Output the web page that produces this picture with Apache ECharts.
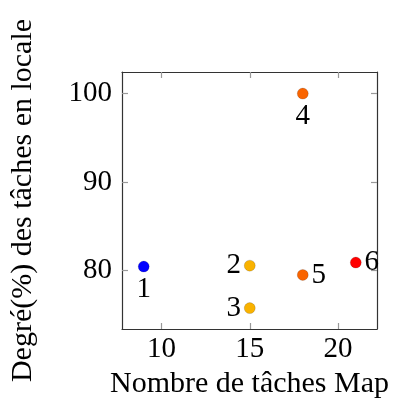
<!DOCTYPE html>
<html>
<head>
<meta charset="utf-8">
<script src="https://cdn.jsdelivr.net/npm/echarts@6/dist/echarts.min.js"></script>
<style>
  html, body { margin: 0; padding: 0; background: #fff; }
  #chart { width: 393px; height: 408px; }
</style>
</head>
<body>
<div id="chart"></div>
<script>
(function () {

  'use strict';

  var pointNames = ['1', '2', '3', '4', '5', '6'];
  var mapTasks = [9, 15, 15, 18, 18, 21];
  var localPct = [80.45, 80.55, 75.75, 100, 79.5, 80.9];
  var pointColors = ['#0000ff', '#f9b200', '#f9b200', '#f96400', '#f96400', '#ff0000'];
  var labelPos = ['bottom', 'left', 'left', 'bottom', 'right', 'right'];
  var xTicks = [10, 15, 20];
  var yTicks = [80, 90, 100];

  var font = '"Liberation Serif", "DejaVu Serif", serif';

  var chart = echarts.init(document.getElementById('chart'));

  var points = pointNames.map(function (n, i) {
    return {
      name: n,
      value: [mapTasks[i], localPct[i]],
      itemStyle: { color: pointColors[i] },
      label: { position: labelPos[i] }
    };
  });

  function tickStyle(values) {
    return {
      show: true, inside: true, length: 6, customValues: values,
      lineStyle: { color: '#999', width: 1.2 }
    };
  }

  var option = {
    animation: false,
    grid: { left: 118, right: 16, top: 72, bottom: 79 },
    xAxis: [{
      type: 'value', min: 7.77, max: 22.2,
      name: 'Nombre de tâches Map', nameLocation: 'middle', nameGap: 37,
      nameTextStyle: { fontFamily: font, fontSize: 30, color: '#000' },
      axisLine: { lineStyle: { color: '#333', width: 1.2 } },
      axisTick: tickStyle(xTicks),
      axisLabel: { customValues: xTicks, fontFamily: font, fontSize: 29, color: '#000', margin: 6 },
      splitLine: { show: false }
    }, {
      type: 'value', min: 7.77, max: 22.2, position: 'top',
      axisLine: { show: true, lineStyle: { color: '#333', width: 1.2 } },
      axisTick: tickStyle(xTicks),
      axisLabel: { show: false },
      splitLine: { show: false }
    }],
    yAxis: [{
      type: 'value', min: 73.39, max: 102.44,
      name: 'Degré(%) des tâches en locale', nameLocation: 'middle', nameGap: 84,
      nameTextStyle: { fontFamily: font, fontSize: 30, color: '#000' },
      axisLine: { show: true, lineStyle: { color: '#333', width: 1.2 } },
      axisTick: tickStyle(yTicks),
      axisLabel: { customValues: yTicks, fontFamily: font, fontSize: 29, color: '#000', margin: 10 },
      splitLine: { show: false }
    }, {
      type: 'value', min: 73.39, max: 102.44, position: 'right',
      axisLine: { show: true, lineStyle: { color: '#333', width: 1.2 } },
      axisTick: tickStyle(yTicks),
      axisLabel: { show: false },
      splitLine: { show: false }
    }],
    series: [{
      type: 'scatter',
      symbolSize: 11,
      itemStyle: { borderColor: 'rgba(0,0,0,0.25)', borderWidth: 0.6, opacity: 1 },
      label: {
        show: true, formatter: '{b}', distance: 3,
        fontFamily: font, fontSize: 29, color: '#000'
      },
      data: points
    }]
  };

  chart.setOption(option);

})();
</script>
</body>
</html>
